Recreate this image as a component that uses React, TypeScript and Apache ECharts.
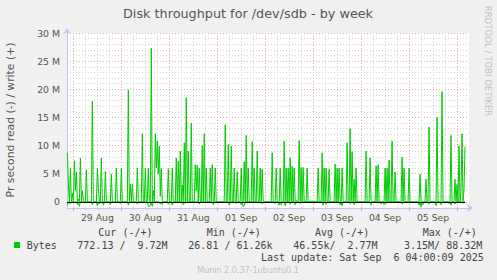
import React, { useEffect, useRef } from 'react';
import * as echarts from 'echarts';

// ---- data ----
const dayLabels = ['29 Aug', '30 Aug', '31 Aug', '01 Sep', '02 Sep', '03 Sep', '04 Sep', '05 Sep'];
const dayStartHours = [0, 24, 48, 72, 96, 120, 144, 168, 192];
const dayLabelHours = [12, 36, 60, 84, 108, 132, 156, 180];
const yMajorTicks = [0, 5, 10, 15, 20, 25, 30];
const startHour = -3; // first sample, hours after 29 Aug 00:00
const stepHours = 0.5; // 30 min resolution

// write bytes/s (millions), one value every 30 minutes
const writes = [
  8.7, 3, 0, 6, 0, 1.5, 0, 7.3, 2, 5.3, 0, 0.5, 0, 7.8, 0, 2, 0, 0, 0, 5.7,
  0, 0, 0, 0, 0, 17.9, 0, 0, 0, 0, 6, 2.5, 0, 0, 7.8, 0, 0, 0, 5.4, 0,
  0, 0, 0, 0, 4.9, 0, 0, 0, 0, 6, 0, 0, 0, 0, 6, 0, 0, 0, 0, 0,
  0, 19.9, 0, 3.1, 0, 3.2, 0, 0, 0, 0, 6, 0, 0, 0, 0, 12.1, 0, 0, 6, 0,
  0, 6, 0, 0, 27.3, 0, 2, 0, 12.1, 6, 10.8, 5, 9.9, 1, 5.9, 0, 0, 0, 0, 0,
  0, 5.9, 0, 0, 0, 6, 0, 0, 0, 7.8, 0, 7.2, 0, 9, 0, 3, 0, 10.5, 0, 18.5,
  0, 9, 0, 0, 14, 0, 0, 0, 6.6, 2, 6.5, 0, 6, 0, 0, 10, 0, 12.1, 0, 6,
  0, 0, 0, 6, 0, 6.6, 0, 0, 6, 0, 0, 0, 0, 0, 0, 0, 0, 0, 13.7, 0,
  0, 10.2, 0, 0, 9.9, 0, 0, 6, 0, 0, 5.4, 0, 0, 0, 6, 0, 0, 7.1, 0, 11.8,
  0, 6, 0, 0, 0, 10.7, 0, 6, 0, 0, 9, 0, 0, 6, 0, 5.8, 0, 0, 0, 0,
  0, 0, 0, 0, 0, 8.7, 0, 0, 0, 6, 0, 0, 0, 6, 0, 0, 0, 10.8, 0, 6,
  0, 6, 0, 7.8, 0, 6.3, 0, 6, 0, 0.3, 0, 0, 10.9, 0, 6.1, 0, 6.1, 0, 0, 0,
  6, 0, 0.1, 0.1, 0.1, 0.1, 0.1, 0.1, 0, 0, 0, 6, 0, 0, 0, 8.7, 0, 6, 0, 6,
  0, 0, 5.8, 0, 0, 0, 0, 0, 6.7, 0, 6, 0, 6, 0, 0, 6, 0, 0, 0, 0,
  10.5, 0, 0, 13, 0, 8.9, 0, 4, 0, 6, 0, 0, 0, 0, 0, 0, 0, 0, 0, 9,
  0, 0, 0, 7.8, 0, 0, 0, 0, 0, 6.4, 0, 6.6, 0, 0, 0, 0, 0, 0, 6, 0,
  6, 0, 7.4, 0, 0, 10.8, 0, 0, 5.3, 0, 0, 0, 0, 0, 0, 7.9, 0, 6, 0, 0,
  0, 0, 6, 0, 0, 0, 0, 0, 0, 0, 0, 0, 0, 4.9, 0, 0, 0, 0, 0, 4,
  0, 0, 13.3, 0, 0, 0, 0, 0, 0, 0, 15, 0, 0, 0, 0, 19.6, 0, 0, 0, 0,
  0, 0, 0, 0, 11.8, 0, 0, 0, 4, 0, 3.1, 0, 9.9, 0, 2, 12.1, 0, 2.2, 9.8,
];

// read bytes/s (millions, drawn negative): sample index -> value
const readIdx = [0, 3, 10, 12, 25, 30, 32, 36, 43, 53, 61, 70, 81, 82, 83, 85, 93, 95, 101, 105,
  116, 118, 132, 146, 162, 169, 174, 176, 177, 195, 208, 212, 214, 218, 223, 228, 233, 256, 259,
  273, 275, 283, 287, 304, 314, 317, 319, 335, 352, 354, 356, 362, 369, 374, 382, 384, 388, 396];
const readVal = [-0.6, -0.4, -0.5, -0.8, -0.5, -0.7, -0.4, -0.6, -0.5, -0.3, -0.6, -0.4, -0.7, -0.9, -0.6, -0.8, -0.4, -0.5, -0.4, -0.6,
  -0.5, -0.3, -0.4, -0.5, -0.6, -0.3, -0.5, -0.9, -0.7, -0.4, -0.3, -0.6, -0.5, -0.7, -0.4, -0.5, -0.3, -0.6, -0.4,
  -0.5, -0.7, -0.3, -0.5, -0.6, -0.4, -0.5, -0.3, -0.4, -0.6, -0.9, -0.5, -0.4, -0.7, -0.5, -0.3, -0.6, -0.4, -0.3];

const legendHeaders = ['Cur (-/+)', 'Min (-/+)', 'Avg (-/+)', 'Max (-/+)'];

export default function App() {
  const ref = useRef<HTMLDivElement>(null);
  useEffect(() => {
    if (!ref.current) return;
    const chart = echarts.init(ref.current, undefined, { renderer: 'svg' });

    const writeData = writes.map((v, i) => [startHour + i * stepHours, v]);
    const readsFull = writes.map(() => 0);
    readIdx.forEach((idx, k) => { readsFull[idx] = readVal[k]; });
    const readData = readsFull.map((v, i) => [startHour + i * stepHours, v]);

    const yMinor: number[] = [];
    for (let v = 1; v < 30; v++) if (v % 5 !== 0) yMinor.push(v);
    const xMinor: number[] = [];
    for (let h = 6; h < 198; h += 6) if (h % 24 !== 0) xMinor.push(h);

    const font = 'DejaVu Sans';
    const mono = 'DejaVu Sans Mono';
    const red = '#eaa6a6';
    const grey = '#d4d4d4';
    const axisBlue = '#c4c4f4';
    const lastEnd = writeData[writeData.length - 1][0];

    const txt = (x: number, y: number, text: string, opts: any = {}) => ({
      type: 'text', x, y, rotation: opts.rotation || 0, silent: true,
      style: {
        text, fill: opts.fill || '#444', fontFamily: opts.family || mono, fontSize: opts.size || 10,
        textAlign: opts.align || 'left', align: opts.align || 'left',
        textVerticalAlign: 'middle', verticalAlign: 'middle',
      },
    });

    const option: any = {
      animation: false,
      backgroundColor: '#f0f0f0',
      grid: {
        left: 67, right: 28, top: 33, bottom: 72,
        show: true, backgroundColor: '#ffffff', borderWidth: 0,
        containLabel: false, outerBoundsMode: 'none',
      },
      xAxis: [
        {
          type: 'value', min: -3.2, max: 198, position: 'bottom',
          axisLine: { show: false, onZero: false },
          axisTick: { show: true, length: 2, customValues: xMinor, lineStyle: { color: grey } },
          axisLabel: { show: false },
          splitLine: { show: true, lineStyle: { color: grey, type: [1, 2], width: 1 } },
        },
        {
          type: 'value', min: -3.2, max: 198, position: 'bottom',
          axisLine: {
            show: true, onZero: false, lineStyle: { color: axisBlue, width: 1 },
            symbol: ['none', 'arrow'], symbolSize: [6, 6], symbolOffset: [0, 4],
          },
          axisTick: { show: true, length: 3, customValues: dayStartHours, lineStyle: { color: red } },
          axisLabel: {
            customValues: dayLabelHours, margin: 5, color: '#555', fontFamily: font, fontSize: 9.3,
            formatter: (v: number) => dayLabels[Math.round((v - 12) / 24)] || '',
          },
          splitLine: { show: true, lineStyle: { color: red, type: [1, 2], width: 1 } },
        },
      ],
      yAxis: [
        {
          type: 'value', min: -1.1, max: 30, position: 'left',
          axisLine: { show: false, onZero: false },
          axisTick: { show: false, customValues: yMinor },
          axisLabel: { show: false },
          splitLine: { show: true, lineStyle: { color: grey, type: [1, 2], width: 1 } },
        },
        {
          type: 'value', min: -1.1, max: 30, position: 'left',
          axisLine: {
            show: true, onZero: false, lineStyle: { color: axisBlue, width: 1 },
            symbol: ['none', 'arrow'], symbolSize: [6, 6], symbolOffset: [0, 5],
          },
          axisTick: { show: false, customValues: yMajorTicks },
          axisLabel: {
            customValues: yMajorTicks, margin: 7, color: '#555', fontFamily: font, fontSize: 9.3,
            formatter: (v: number) => (v === 0 ? '0' : v + ' M'),
          },
          splitLine: { show: true, lineStyle: { color: red, type: [1, 2], width: 1 } },
        },
      ],
      series: [
        {
          name: 'read', type: 'line', xAxisIndex: 1, yAxisIndex: 1, data: readData,
          symbol: 'none', showSymbol: false, lineStyle: { color: '#00cc00', width: 1 }, z: 3,
        },
        {
          name: 'Bytes', type: 'line', xAxisIndex: 1, yAxisIndex: 1, data: writeData,
          symbol: 'none', showSymbol: false, lineStyle: { color: '#00cc00', width: 1 }, z: 4,
          markLine: {
            silent: true, symbol: 'none', label: { show: false },
            lineStyle: { color: '#000000', width: 1.2, type: 'solid' },
            data: [[{ coord: [-3.2, 0] }, { coord: [lastEnd, 0] }]],
          },
        },
      ],
      graphic: [
        txt(248, 13, 'Disk throughput for /dev/sdb - by week', { family: font, size: 12.8, align: 'center', fill: '#555' }),
        txt(10, 120, 'Pr second read (-) / write (+)', { family: font, size: 10.8, align: 'center', fill: '#555', rotation: Math.PI / 2 }),
        txt(488, 61, 'RRDTOOL / TOBI OETIKER', { family: font, size: 8.6, align: 'center', fill: '#c4c4c4', rotation: -Math.PI / 2 }),
        txt(98.3, 232, legendHeaders[0]),
        txt(206.7, 232, legendHeaders[1]),
        txt(315, 232, legendHeaders[2]),
        txt(422.7, 232, legendHeaders[3]),
        { type: 'rect', shape: { x: 14, y: 242, width: 6, height: 6 }, style: { fill: '#00cc00' }, silent: true },
        txt(26.7, 245, 'Bytes'),
        txt(77.3, 245, '772.13 /'),
        txt(137.5, 245, '9.72M'),
        txt(188.3, 245, '26.81 / 61.26k'),
        txt(293.3, 245, '46.55k/'),
        txt(347.5, 245, '2.77M'),
        txt(404, 245, '3.15M/ 88.32M'),
        txt(261, 257, 'Last update: Sat Sep'),
        txt(393.4, 257, '6 04:00:09 2025'),
        txt(248, 270, 'Munin 2.0.37-1ubuntu0.1', { family: font, size: 8, align: 'center', fill: '#c0c0c0' }),
      ],
    };
    chart.setOption(option);
    return () => chart.dispose();
  }, []);
  return (
    <div
      ref={ref}
      style={{ position: 'fixed', left: 0, top: 0, width: 497, height: 280, background: '#f0f0f0' }}
    />
  );
}
